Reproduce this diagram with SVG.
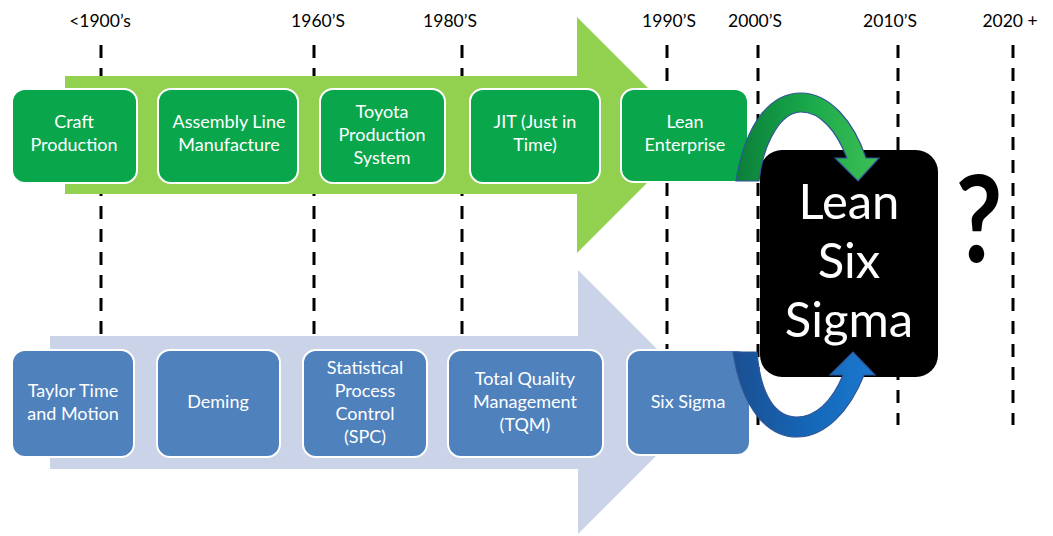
<svg xmlns="http://www.w3.org/2000/svg" width="1053" height="536" viewBox="0 0 1053 536">
<style>
.lbl{font-family:Lato,"Liberation Sans",sans-serif;font-size:17.5px;fill:#000;text-anchor:middle}
.bt{font-family:Lato,"Liberation Sans",sans-serif;font-size:18px;fill:#fff;text-anchor:middle}
.g{fill:#0AA64C;stroke:#fff;stroke-width:2}
.b{fill:#4F81BD;stroke:#fff;stroke-width:2}
.dash{stroke:#000;stroke-width:3;stroke-dasharray:13 10;fill:none}
.big{font-family:Lato,"Liberation Sans",sans-serif;font-size:49px;fill:#fff;text-anchor:middle}
</style>
<defs>
<linearGradient id="gg" x1="0" y1="0" x2="1" y2="0">
<stop offset="0" stop-color="#0B7F3A"/><stop offset="0.5" stop-color="#19A84A"/><stop offset="1" stop-color="#3FBF55"/>
</linearGradient>
<linearGradient id="bg" x1="0" y1="0" x2="1" y2="0">
<stop offset="0" stop-color="#1B4F91"/><stop offset="0.5" stop-color="#1565B5"/><stop offset="1" stop-color="#1A7AD0"/>
</linearGradient>
</defs>
<rect width="1053" height="536" fill="#fff"/>
<g id="timeline">
<text class="lbl" x="100" y="27">&lt;1900’s</text>
<text class="lbl" x="318" y="27">1960’S</text>
<text class="lbl" x="450" y="27">1980’S</text>
<text class="lbl" x="669" y="27">1990’S</text>
<text class="lbl" x="755" y="27">2000’S</text>
<text class="lbl" x="890" y="27">2010’S</text>
<text class="lbl" x="1010" y="27">2020 +</text>
<line class="dash" x1="101" y1="45" x2="101" y2="340"/>
<line class="dash" x1="314" y1="45" x2="314" y2="340"/>
<line class="dash" x1="462" y1="45" x2="462" y2="340"/>
<line class="dash" x1="667" y1="45" x2="667" y2="350"/>
<line class="dash" x1="758" y1="45" x2="758" y2="425"/>
<line class="dash" x1="898" y1="45" x2="898" y2="425"/>
<line class="dash" x1="1013" y1="45" x2="1013" y2="425"/>
</g>
<path id="lean-arrow" d="M65 76 L577 76 L577 17 L695 135 L577 253 L577 194 L65 194 Z" fill="#92D050"/>
<path id="quality-arrow" d="M50 336 L578 336 L578 270 L710 402 L578 534 L578 469 L50 469 Z" fill="#CAD3E7"/>
<g id="craft"><rect class="g" x="12" y="89" width="125" height="94" rx="13"/><text class="bt" x="74" y="128">Craft</text><text class="bt" x="74" y="151">Production</text></g>
<g id="assembly"><rect class="g" x="158" y="89" width="140" height="94" rx="13"/><text class="bt" x="229" y="128">Assembly Line</text><text class="bt" x="229" y="151">Manufacture</text></g>
<g id="toyota"><rect class="g" x="320" y="89" width="125" height="94" rx="13"/><text class="bt" x="382" y="118">Toyota</text><text class="bt" x="382" y="141">Production</text><text class="bt" x="382" y="164">System</text></g>
<g id="jit"><rect class="g" x="470" y="89" width="130" height="94" rx="13"/><text class="bt" x="535" y="128">JIT (Just in</text><text class="bt" x="535" y="151">Time)</text></g>
<g id="lean-enterprise"><rect class="g" x="621" y="89" width="127" height="93" rx="13"/><text class="bt" x="685" y="128">Lean</text><text class="bt" x="685" y="151">Enterprise</text></g>
<g id="taylor"><rect class="b" x="12" y="350" width="122" height="107" rx="13"/><text class="bt" x="73" y="397">Taylor Time</text><text class="bt" x="73" y="420">and Motion</text></g>
<g id="deming"><rect class="b" x="157" y="350" width="123" height="107" rx="13"/><text class="bt" x="218" y="408">Deming</text></g>
<g id="spc"><rect class="b" x="303" y="350" width="124" height="107" rx="13"/><text class="bt" x="365" y="374">Statistical</text><text class="bt" x="365" y="397">Process</text><text class="bt" x="365" y="420">Control</text><text class="bt" x="365" y="443">(SPC)</text></g>
<g id="tqm"><rect class="b" x="448" y="350" width="155" height="107" rx="13"/><text class="bt" x="525" y="385">Total Quality</text><text class="bt" x="525" y="408">Management</text><text class="bt" x="525" y="431">(TQM)</text></g>
<g id="six-sigma"><rect class="b" x="627" y="350" width="123" height="105" rx="13"/><text class="bt" x="688" y="408">Six Sigma</text></g>
<g id="lean-six-sigma"><rect x="760" y="150" width="178" height="227" rx="22" fill="#000"/><text class="big" x="849" y="219">Lean</text><text class="big" x="849" y="278">Six</text><text class="big" x="849" y="337">Sigma</text></g>
<g id="question"><text x="0" y="0" transform="translate(979 262) scale(0.85 1)" font-family="Lato,'Liberation Sans',sans-serif" font-weight="bold" font-size="120" fill="#000" text-anchor="middle">?</text></g>
<g id="connectors">
<path d="M736 181 C746 120 772 93 801 93 C830 93 854 122 866 158 L879 158 L858 181 L835 158 L847 158 C836 130 820 112 801 112 C783 112 764 138 759 181 Z" fill="url(#gg)" stroke="#2F5597" stroke-width="1.2"/>
<path d="M733 352 C742 410 768 437 797 437 C826 437 850 410 864 375 L875 375 L853 352 L830 375 L843 375 C832 402 815 417 797 417 C778 417 761 400 757 352 Z" fill="url(#bg)" stroke="#2F5597" stroke-width="1.2"/>
</g>
</svg>
